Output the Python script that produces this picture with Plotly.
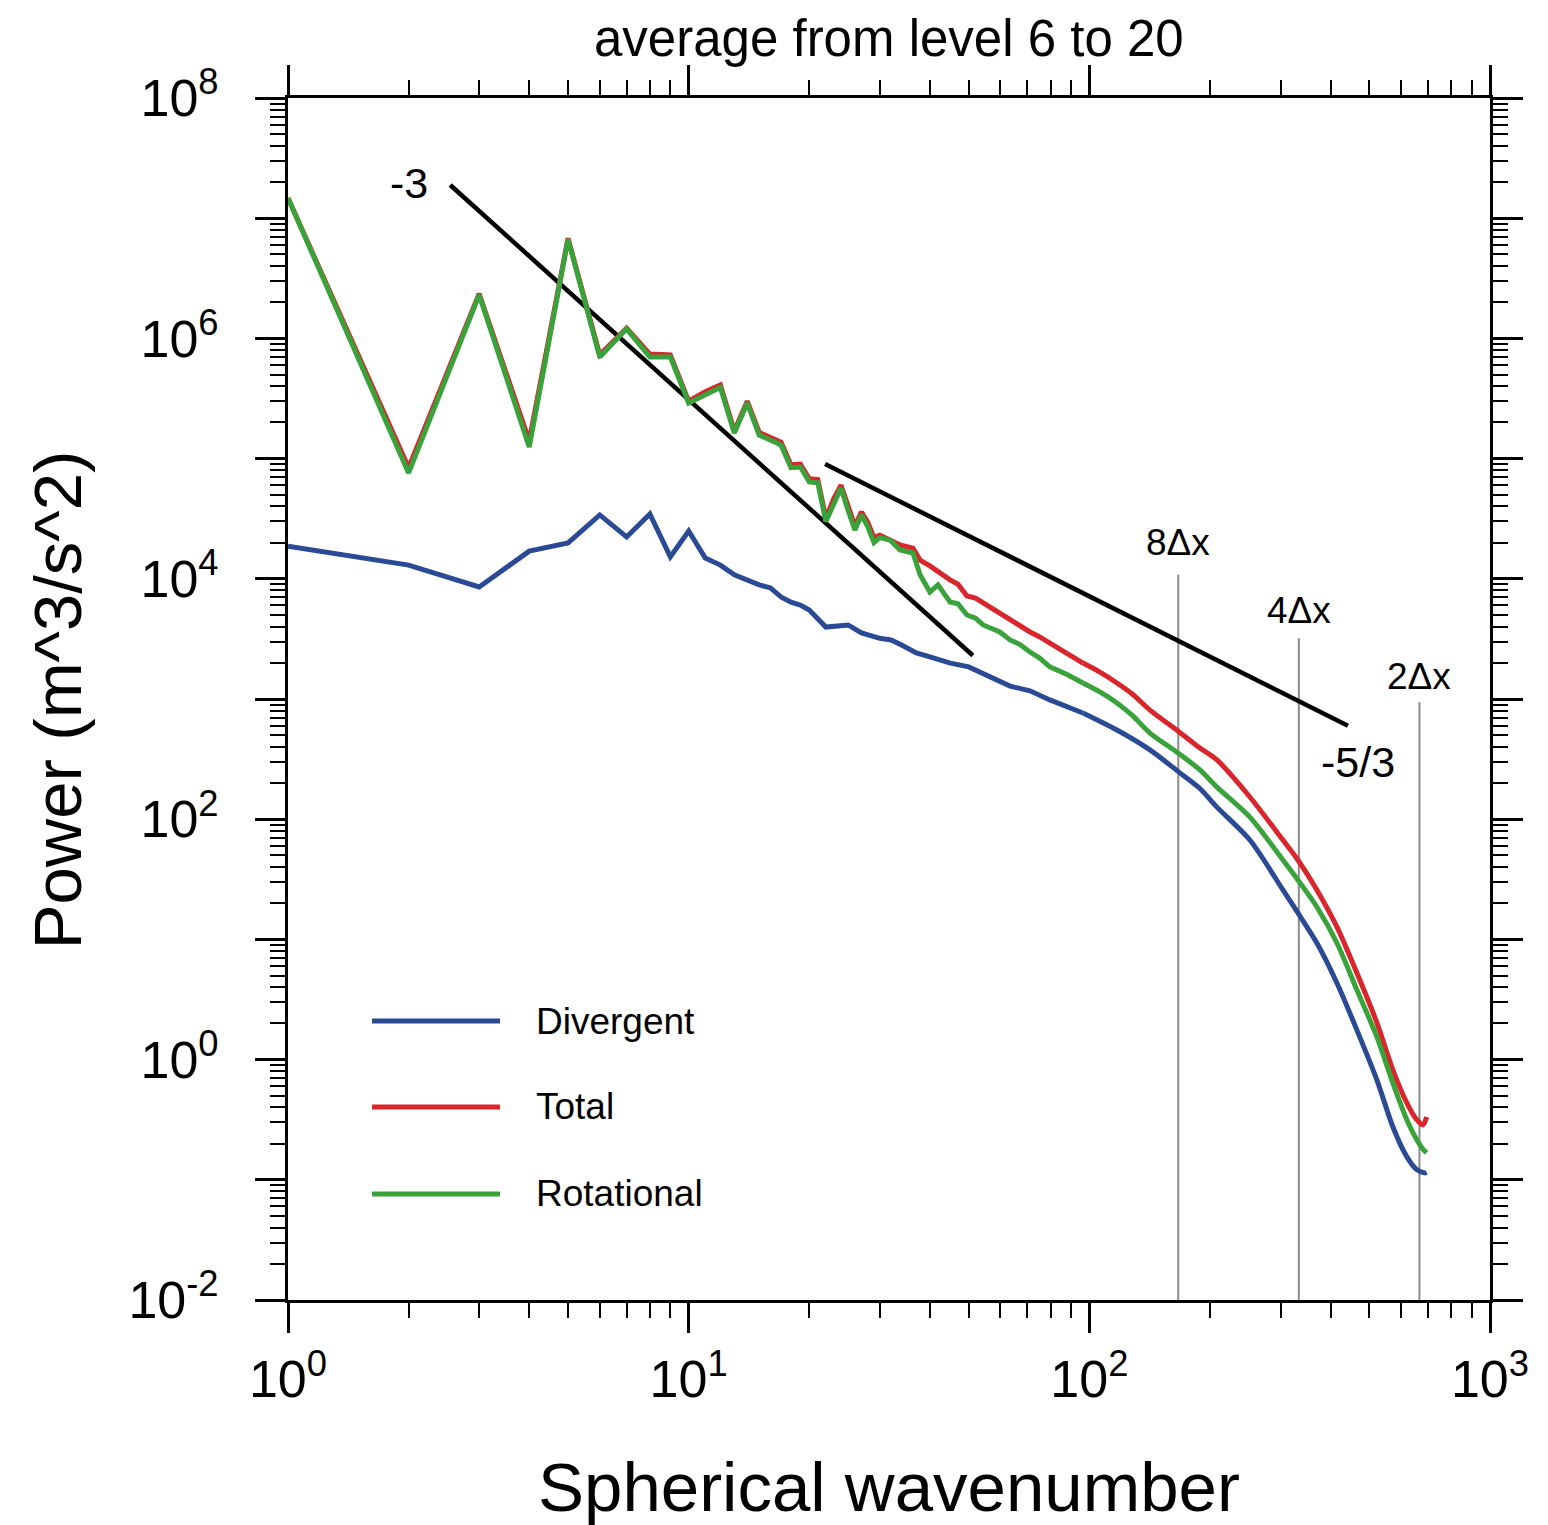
import math
import plotly.graph_objects as go

# ---------------- data ----------------
wn_low = list(range(1, 30))
total_low = [1.47e7, 8.4e4, 2.35e6, 1.4e5, 6.8e6, 7.3e5, 1.22e6, 7.4e5, 7.3e5, 3.0e5,
             3.6e5, 4.1e5, 1.7e5, 3.0e5, 1.65e5, 1.5e5, 1.37e5, 8.9e4, 9.0e4, 6.8e4,
             6.7e4, 3.2e4, 4.6e4, 6.0e4, 3.95e4, 2.75e4, 3.6e4, 2.95e4, 2.2e4]
rot_low = [1.47e7, 7.6e4, 2.3e6, 1.25e5, 6.7e6, 7.0e5, 1.2e6, 7.0e5, 7.0e5, 2.9e5,
           3.4e5, 3.9e5, 1.63e5, 2.9e5, 1.57e5, 1.43e5, 1.3e5, 8.4e4, 8.5e4, 6.4e4,
           6.3e4, 3.0e4, 4.3e4, 5.7e4, 3.7e4, 2.55e4, 3.4e4, 2.7e4, 2.0e4]

# mid wavenumbers (ragged part)
wn_mid = [30, 31.8, 33.7, 36.3, 37.8, 40.0, 41.9, 44.9, 47.0, 49.5, 52.0, 54.3, 57.0, 59.8,
          63.4, 67.0, 71.1, 75.0, 79.7, 88.0, 96.4]
total_mid = [2.3e4, 2.1e4, 1.91e4, 1.8e4, 1.43e4, 1.28e4, 1.14e4, 9.8e3, 9.0e3, 7.2e3,
             6.9e3, 6.3e3, 5.6e3, 5.2e3, 4.54e3, 4.1e3, 3.61e3, 3.3e3, 2.92e3, 2.45e3,
             1.99e3]
rot_mid = [2.2e4, 2.1e4, 1.74e4, 1.64e4, 1.08e4, 7.76e3, 8.9e3, 6.41e3, 6.2e3, 5.0e3,
           4.7e3, 4.13e3, 3.9e3, 3.61e3, 3.1e3, 2.85e3, 2.46e3, 2.2e3, 1.85e3, 1.6e3,
           1.36e3]

# high wavenumbers (smooth tail)
wn_tail = [96.4, 106.0, 117.2, 128.0, 141.7, 166.4, 188.8, 208.2, 251.6, 304.2, 331.6,
           369.8, 414.9, 465.4, 522.2, 572.4, 620.3, 657.1, 680.1, 695.0]
total_tail = [1.99e3, 1.68e3, 1.36e3, 1.1e3, 809, 542, 391, 311, 153, 67.1, 45.8, 25.8,
              12.7, 5.25, 2.02, 0.819, 0.435, 0.315, 0.286, 0.333]
rot_tail = [1.36e3, 1.15e3, 927, 730, 521, 356, 257, 185, 104, 45.8, 31.2, 18.6,
            9.33, 3.79, 1.54, 0.638, 0.315, 0.214, 0.180, 0.168]

wn_div = [1, 2, 3, 4, 5, 6, 7, 8, 9, 10, 11, 12, 13, 14, 15, 16, 17, 18, 19, 20, 22, 25,
          27, 30, 32, 34, 37, 40, 43, 45, 50, 56.5, 63.4, 71.1, 79.7, 96.4]
div_vals = [1.87e4, 1.3e4, 8.55e3, 1.7e4, 1.99e4, 3.4e4, 2.23e4, 3.46e4, 1.52e4, 2.5e4,
            1.49e4, 1.3e4, 1.08e4, 9.8e3, 8.9e3, 8.4e3, 7.06e3, 6.4e3, 6.05e3, 5.5e3,
            3.97e3, 4.13e3, 3.54e3, 3.2e3, 3.1e3, 2.81e3, 2.42e3, 2.24e3, 2.07e3, 1.99e3,
            1.85e3, 1.55e3, 1.28e3, 1.17e3, 982, 765]
wn_div_tail = [96.4, 117.2, 141.7, 166.4, 188.8, 208.2, 251.6, 304.2, 331.6, 369.8, 414.9,
               465.4, 522.2, 572.4, 620.3, 657.1, 688.1, 695.0]
div_tail = [765, 552, 377, 250, 180, 126, 67.1, 25.8, 16.6, 9.33, 4.34, 1.76, 0.676,
            0.275, 0.155, 0.121, 0.114, 0.115]

# reference slope lines
slope3_x = [2.54, 51.2]
slope3_y = [1.89e7, 2.3e3]
slope53_x = [21.9, 442]
slope53_y = [9.0e4, 6.0e2]

# grid-scale markers (wavenumber, top of line, label)
dx_k = [166.7, 333.3, 666.7]
dx_top = [1.08e4, 3.2e3, 9.4e2]
dx_labels = ["8Δx", "4Δx", "2Δx"]
dx_label_y = [1.99e4, 5.5e3, 1.55e3]

series_names = ["Divergent", "Total", "Rotational"]
series_colors = ["#2a4a96", "#d8262c", "#3aa23a"]

x_ticks = [1, 10, 100, 1000]
x_ticktext = ["10<sup>0</sup>", "10<sup>1</sup>", "10<sup>2</sup>", "10<sup>3</sup>"]
y_ticks = [10.0 ** e for e in range(-2, 9)]
y_ticktext = ["10<sup>%d</sup>" % e if e % 2 == 0 else "" for e in range(-2, 9)]

FONT = "Liberation Sans, Arial, Helvetica, sans-serif"

fig = go.Figure()

# reference lines
for k, top in zip(dx_k, dx_top):
    fig.add_trace(go.Scatter(x=[k, k], y=[1e-2, top], mode="lines",
                             line=dict(color="#8a8a8a", width=2), showlegend=False,
                             hoverinfo="skip"))
fig.add_trace(go.Scatter(x=slope3_x, y=slope3_y, mode="lines",
                         line=dict(color="black", width=4.5), showlegend=False))
fig.add_trace(go.Scatter(x=slope53_x, y=slope53_y, mode="lines",
                         line=dict(color="black", width=4.5), showlegend=False))

# spectra: ragged part drawn straight, tail drawn as a smooth curve
fig.add_trace(go.Scatter(x=wn_div, y=div_vals, mode="lines", name="Divergent",
                         line=dict(color=series_colors[0], width=5), showlegend=False))
fig.add_trace(go.Scatter(x=wn_div_tail, y=div_tail, mode="lines", name="Divergent",
                         line=dict(color=series_colors[0], width=5, shape="spline",
                                   smoothing=0.8), showlegend=False))
fig.add_trace(go.Scatter(x=wn_low + wn_mid, y=total_low + total_mid, mode="lines",
                         name="Total", line=dict(color=series_colors[1], width=5),
                         showlegend=False))
fig.add_trace(go.Scatter(x=wn_tail, y=total_tail, mode="lines", name="Total",
                         line=dict(color=series_colors[1], width=5, shape="spline",
                                   smoothing=0.8), showlegend=False))
fig.add_trace(go.Scatter(x=wn_low + wn_mid, y=rot_low + rot_mid, mode="lines",
                         name="Rotational", line=dict(color=series_colors[2], width=5),
                         showlegend=False))
fig.add_trace(go.Scatter(x=wn_tail, y=rot_tail, mode="lines", name="Rotational",
                         line=dict(color=series_colors[2], width=5, shape="spline",
                                   smoothing=0.8), showlegend=False))

annotations = []
for k, ly, lab in zip(dx_k, dx_label_y, dx_labels):
    annotations.append(dict(x=math.log10(k), y=math.log10(ly), xref="x", yref="y",
                            text=lab, showarrow=False, xanchor="center", yanchor="middle",
                            font=dict(family=FONT, size=37, color="black")))
annotations.append(dict(x=math.log10(2.0), y=math.log10(1.96e7), xref="x", yref="y",
                        text="-3", showarrow=False, xanchor="center", yanchor="middle",
                        font=dict(family=FONT, size=43, color="black")))
annotations.append(dict(x=math.log10(468), y=math.log10(299), xref="x", yref="y",
                        text="-5/3", showarrow=False, xanchor="center", yanchor="middle",
                        font=dict(family=FONT, size=43, color="black")))

# titles
annotations.append(dict(x=0.5, y=1.0499, xref="paper", yref="paper",
                        text="average from level 6 to 20", showarrow=False,
                        xanchor="center", yanchor="middle",
                        font=dict(family=FONT, size=51, color="black")))
annotations.append(dict(x=0.5, y=-0.1564, xref="paper", yref="paper",
                        text="Spherical wavenumber", showarrow=False,
                        xanchor="center", yanchor="middle",
                        font=dict(family=FONT, size=69, color="black")))
annotations.append(dict(x=-0.1922, y=0.499, xref="paper", yref="paper",
                        text="Power (m^3/s^2)", showarrow=False, textangle=-90,
                        xanchor="center", yanchor="middle",
                        font=dict(family=FONT, size=67, color="black")))

# legend (manual, inside the plot)
shapes = []
leg_y = [0.2321, 0.1606, 0.0882]
for name, col, yy in zip(series_names, series_colors, leg_y):
    shapes.append(dict(type="line", xref="paper", yref="paper", x0=0.0699, x1=0.1764,
                       y0=yy, y1=yy, line=dict(color=col, width=5)))
    annotations.append(dict(x=0.2047, y=yy, xref="paper", yref="paper", text=name,
                            showarrow=False, xanchor="left", yanchor="middle",
                            font=dict(family=FONT, size=37, color="black")))

x_minor = [m * 10.0 ** d for d in range(0, 3) for m in range(2, 10)]
y_minor = [m * 10.0 ** d for d in range(-2, 8) for m in range(2, 10)]

axis_common = dict(showline=True, linewidth=3, linecolor="black", mirror="ticks",
                   ticks="outside", ticklen=30, tickwidth=3, tickcolor="black",
                   showgrid=False, zeroline=False,
                   tickfont=dict(family=FONT, size=52, color="black"))

# the page body has an 8px default margin, so the figure is sized to fit inside it
fig.update_layout(
    width=1540, height=1517, autosize=False,
    margin=dict(l=280, r=58, t=90, b=225),
    paper_bgcolor="white", plot_bgcolor="white",
    showlegend=False,
    annotations=annotations, shapes=shapes,
    xaxis=dict(type="log", range=[0, 3], tickmode="array", tickvals=x_ticks,
               ticktext=x_ticktext, ticklabelstandoff=2,
               minor=dict(tickmode="array", tickvals=x_minor, ticks="outside",
                          ticklen=15, tickwidth=2, tickcolor="black", showgrid=False),
               **axis_common),
    yaxis=dict(type="log", range=[-2, 8], tickmode="array", tickvals=y_ticks,
               ticktext=y_ticktext, ticklabelstandoff=26,
               minor=dict(tickmode="array", tickvals=y_minor, ticks="outside",
                          ticklen=15, tickwidth=2, tickcolor="black", showgrid=False),
               **axis_common),
)

fig.write_html("out.html")
